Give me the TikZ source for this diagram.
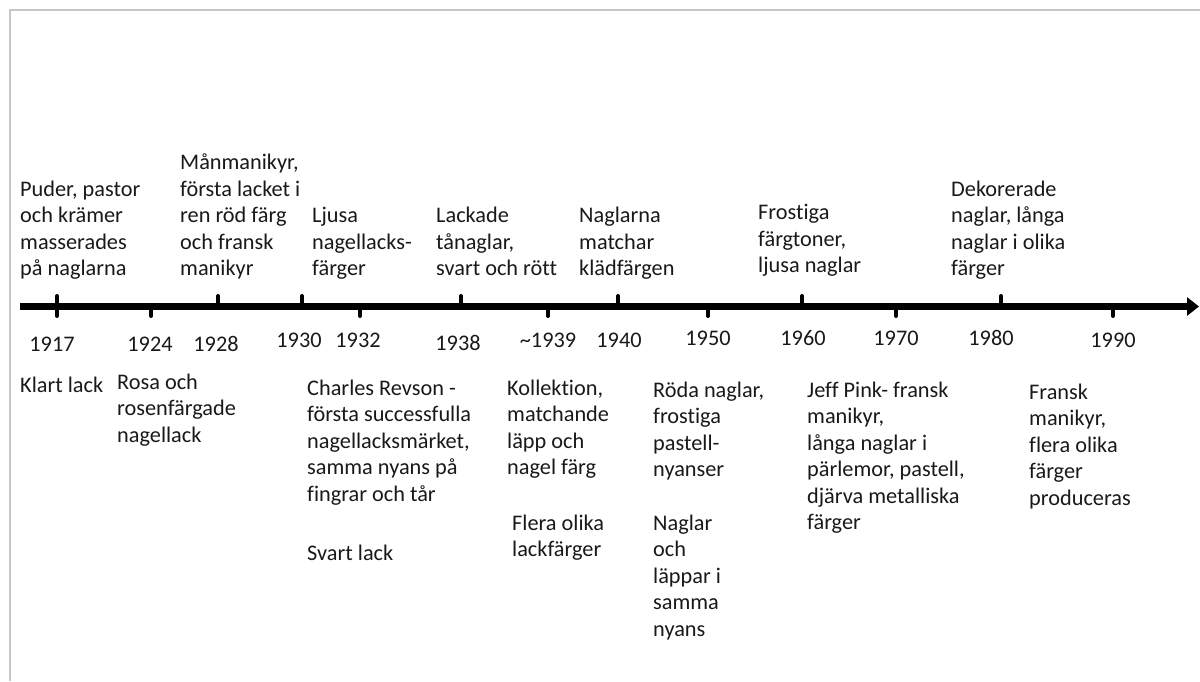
\documentclass[tikz,border=0pt]{standalone}
\usepackage{fontspec}
\setmainfont{Carlito}[RawFeature={-liga;-clig;-calt;-dlig;-rlig;-hlig}]
\usetikzlibrary{arrows.meta}

\tikzset{
  event/.style={align=left, inner sep=0pt, text=black!90,
    font=\fontsize{22.3}{26.5}\selectfont,
    execute at begin node=\strut, execute at end node=\strut},
  evtop/.style={event, anchor=south west},
  evbot/.style={event, anchor=north west},
  yearlbl/.style={anchor=base, inner sep=0pt, text=black!90,
    font=\fontsize{22.3}{26.5}\selectfont},
  tickmark/.style={line width=4pt, line cap=round},
}

\begin{document}
\begin{tikzpicture}[x=1pt,y=-1pt]
\useasboundingbox (0,0) rectangle (1200,681);

% frame
\draw[gray!45, line width=1.5pt] (10,681) -- (10,10) -- (1200,10);

% time axis
\coordinate (start) at (20,306.5);
\coordinate (end) at (1199,306.5);
\draw[line width=7pt, -{Triangle[length=12pt,width=18pt]}] (start) -- (end);

\foreach \x in {57,218,302,461,618,802,1001}
  \draw[tickmark] (\x,306.5) -- (\x,296);
\foreach \x in {57,151,360,548,708,896,1113}
  \draw[tickmark] (\x,306.5) -- (\x,316);

% years
\foreach \x/\y/\yr in {52/351/1917, 150/351/1924, 216/351/1928, 299/347/1930,
    358/347/1932, 458/350/1938, 548/347/{\textasciitilde1939}, 619/347/1940,
    708/345/1950, 803/345/1960, 896/345/1970, 991/345/1980, 1113/347/1990}
  \node[yearlbl] (y\x) at (\x,\y) {\yr};

% above the axis
\node[evtop] (puder) at (20,284) {Puder, pastor\\och krämer\\masserades\\på naglarna};
\node[evtop] (manen) at (180,284) {Månmanikyr,\\första lacket i\\ren röd färg\\och fransk\\manikyr};
\node[evtop] (ljusa) at (312,284) {Ljusa\\nagellacks-\\färger};
\node[evtop] (lackade) at (436,284) {Lackade\\tånaglar,\\svart och rött};
\node[evtop] (matchar) at (579,284) {Naglarna\\matchar\\klädfärgen};
\node[evtop] (frost) at (758,281) {Frostiga\\färgtoner,\\ljusa naglar};
\node[evtop] (dekor) at (951,284) {Dekorerade\\naglar, långa\\naglar i olika\\färger};

% below the axis
\node[evbot] (klart) at (20,373.5) {Klart lack};
\node[evbot] (rosa) at (117,373.5) {Rosa och\\rosenfärgade\\nagellack};
\node[evbot] (revson) at (307,379.5) {Charles Revson -\\första successfulla\\nagellacksmärket,\\samma nyans på\\fingrar och tår};
\node[evbot] (svart) at (307,541.5) {Svart lack};
\node[evbot] (koll) at (507,379.5) {Kollektion,\\matchande\\läpp och\\nagel färg};
\node[evbot] (flera) at (512,514.5) {Flera olika\\lackfärger};
\node[evbot] (roda) at (653,381.5) {Röda naglar,\\frostiga\\pastell-\\nyanser};
\node[evbot] (lappar) at (653,514.5) {Naglar\\och\\läppar i\\samma\\nyans};
\node[evbot] (jeff) at (807,381.5) {Jeff Pink- fransk\\manikyr,\\långa naglar i\\pärlemor, pastell,\\djärva metalliska\\färger};
\node[evbot] (fransk) at (1029,383.5) {Fransk\\manikyr,\\flera olika\\färger\\produceras};

\end{tikzpicture}
\end{document}
